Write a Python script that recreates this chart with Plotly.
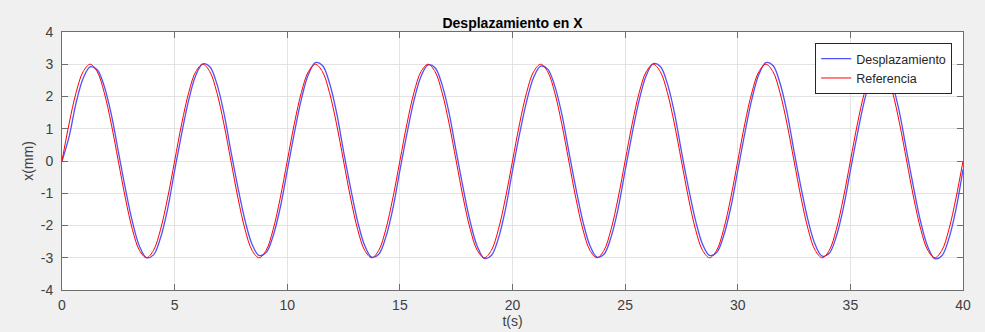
import plotly.graph_objects as go

# sample times (s)
t = [
    0, 0.3125, 0.625, 0.9375, 1.25, 1.5625, 1.875, 2.1875, 2.5, 2.8125, 3.125, 3.4375, 3.75, 4.0625, 4.375, 4.6875,
    5, 5.3125, 5.625, 5.9375, 6.25, 6.5625, 6.875, 7.1875, 7.5, 7.8125, 8.125, 8.4375, 8.75, 9.0625, 9.375, 9.6875,
    10, 10.3125, 10.625, 10.9375, 11.25, 11.5625, 11.875, 12.1875, 12.5, 12.8125, 13.125, 13.4375, 13.75, 14.0625, 14.375, 14.6875,
    15, 15.3125, 15.625, 15.9375, 16.25, 16.5625, 16.875, 17.1875, 17.5, 17.8125, 18.125, 18.4375, 18.75, 19.0625, 19.375, 19.6875,
    20, 20.3125, 20.625, 20.9375, 21.25, 21.5625, 21.875, 22.1875, 22.5, 22.8125, 23.125, 23.4375, 23.75, 24.0625, 24.375, 24.6875,
    25, 25.3125, 25.625, 25.9375, 26.25, 26.5625, 26.875, 27.1875, 27.5, 27.8125, 28.125, 28.4375, 28.75, 29.0625, 29.375, 29.6875,
    30, 30.3125, 30.625, 30.9375, 31.25, 31.5625, 31.875, 32.1875, 32.5, 32.8125, 33.125, 33.4375, 33.75, 34.0625, 34.375, 34.6875,
    35, 35.3125, 35.625, 35.9375, 36.25, 36.5625, 36.875, 37.1875, 37.5, 37.8125, 38.125, 38.4375, 38.75, 39.0625, 39.375, 39.6875,
    40,
]

# Desplazamiento (mm)
desplazamiento = [
    0.00, 0.75, 1.80, 2.56, 2.92, 2.83, 2.32, 1.45, 0.30, -0.85, -1.88, -2.64, -3.00, -2.91, -2.38, -1.49,
    -0.30, 0.85, 1.89, 2.65, 3.01, 2.92, 2.39, 1.49, 0.30, -0.83, -1.84, -2.58, -2.93, -2.84, -2.32, -1.45,
    -0.30, 0.86, 1.91, 2.68, 3.05, 2.96, 2.42, 1.51, 0.30, -0.84, -1.87, -2.62, -2.98, -2.89, -2.36, -1.48,
    -0.30, 0.84, 1.87, 2.62, 2.98, 2.89, 2.36, 1.48, 0.30, -0.85, -1.89, -2.65, -3.02, -2.93, -2.40, -1.50,
    -0.30, 0.83, 1.84, 2.59, 2.94, 2.85, 2.33, 1.46, 0.30, -0.84, -1.87, -2.62, -2.98, -2.89, -2.36, -1.48,
    -0.30, 0.85, 1.89, 2.65, 3.02, 2.93, 2.40, 1.50, 0.30, -0.83, -1.84, -2.58, -2.93, -2.84, -2.32, -1.45,
    -0.30, 0.86, 1.91, 2.68, 3.05, 2.96, 2.42, 1.51, 0.30, -0.83, -1.85, -2.59, -2.95, -2.86, -2.34, -1.46,
    -0.30, 0.84, 1.87, 2.62, 2.98, 2.89, 2.36, 1.48, 0.30, -0.85, -1.90, -2.66, -3.03, -2.94, -2.40, -1.50,
    -0.26,
]

# Referencia (mm)
referencia = [
    0.00, 1.15, 2.12, 2.77, 3.00, 2.77, 2.12, 1.15, 0.00, -1.15, -2.12, -2.77, -3.00, -2.77, -2.12, -1.15,
    0.00, 1.15, 2.12, 2.77, 3.00, 2.77, 2.12, 1.15, 0.00, -1.15, -2.12, -2.77, -3.00, -2.77, -2.12, -1.15,
    0.00, 1.15, 2.12, 2.77, 3.00, 2.77, 2.12, 1.15, 0.00, -1.15, -2.12, -2.77, -3.00, -2.77, -2.12, -1.15,
    0.00, 1.15, 2.12, 2.77, 3.00, 2.77, 2.12, 1.15, 0.00, -1.15, -2.12, -2.77, -3.00, -2.77, -2.12, -1.15,
    0.00, 1.15, 2.12, 2.77, 3.00, 2.77, 2.12, 1.15, 0.00, -1.15, -2.12, -2.77, -3.00, -2.77, -2.12, -1.15,
    0.00, 1.15, 2.12, 2.77, 3.00, 2.77, 2.12, 1.15, 0.00, -1.15, -2.12, -2.77, -3.00, -2.77, -2.12, -1.15,
    0.00, 1.15, 2.12, 2.77, 3.00, 2.77, 2.12, 1.15, 0.00, -1.15, -2.12, -2.77, -3.00, -2.77, -2.12, -1.15,
    0.00, 1.15, 2.12, 2.77, 3.00, 2.77, 2.12, 1.15, 0.00, -1.15, -2.12, -2.77, -3.00, -2.77, -2.12, -1.15,
    0.00,
]

x_ticks = [0, 5, 10, 15, 20, 25, 30, 35, 40]
y_ticks = [-4, -3, -2, -1, 0, 1, 2, 3, 4]

axis_col = "#6e6e6e"
font_fam = "Liberation Sans, Arial, sans-serif"

fig = go.Figure()
fig.add_trace(go.Scatter(x=t, y=desplazamiento, mode="lines", name="Desplazamiento",
                         line=dict(color="rgb(80,80,255)", width=1.3, shape="spline")))
fig.add_trace(go.Scatter(x=t, y=referencia, mode="lines", name="Referencia",
                         line=dict(color="#ff0000", width=1, shape="spline")))

fig.update_layout(
    width=985, height=332,
    margin=dict(l=62, r=22, t=32, b=42),
    paper_bgcolor="#f0f0f0",
    plot_bgcolor="#ffffff",
    font=dict(family=font_fam, size=14, color="#404040"),
    title=dict(text="<b>Desplazamiento en X</b>", x=0.5, xref="paper", xanchor="center",
               y=1, yref="paper", yanchor="bottom", pad=dict(b=4),
               font=dict(size=14, color="#000000")),
    showlegend=True,
    legend=dict(x=0.988, y=0.957, xanchor="right", yanchor="top",
                bgcolor="#ffffff", bordercolor="#262626", borderwidth=1,
                font=dict(size=12.5, color="#262626"),
                tracegroupgap=0, itemwidth=30),
    xaxis=dict(range=[0, 40], tickvals=x_ticks, ticktext=[str(v) for v in x_ticks],
               showgrid=True, gridcolor="#e3e3e3", gridwidth=1,
               showline=True, linecolor=axis_col, linewidth=1, mirror="allticks",
               ticks="inside", ticklen=6, tickcolor=axis_col, ticklabelstandoff=2,
               zeroline=False, automargin=False,
               title=dict(text="t(s)", standoff=3, font=dict(size=14, color="#404040"))),
    yaxis=dict(range=[-4, 4], tickvals=y_ticks, ticktext=[str(v) for v in y_ticks],
               showgrid=True, gridcolor="#e3e3e3", gridwidth=1,
               showline=True, linecolor=axis_col, linewidth=1, mirror="allticks",
               ticks="inside", ticklen=6, tickcolor=axis_col, ticklabelstandoff=5,
               zeroline=False, automargin=False,
               title=dict(text="x(mm)", standoff=3, font=dict(size=14, color="#404040"))),
)

fig.write_html("out.html")
